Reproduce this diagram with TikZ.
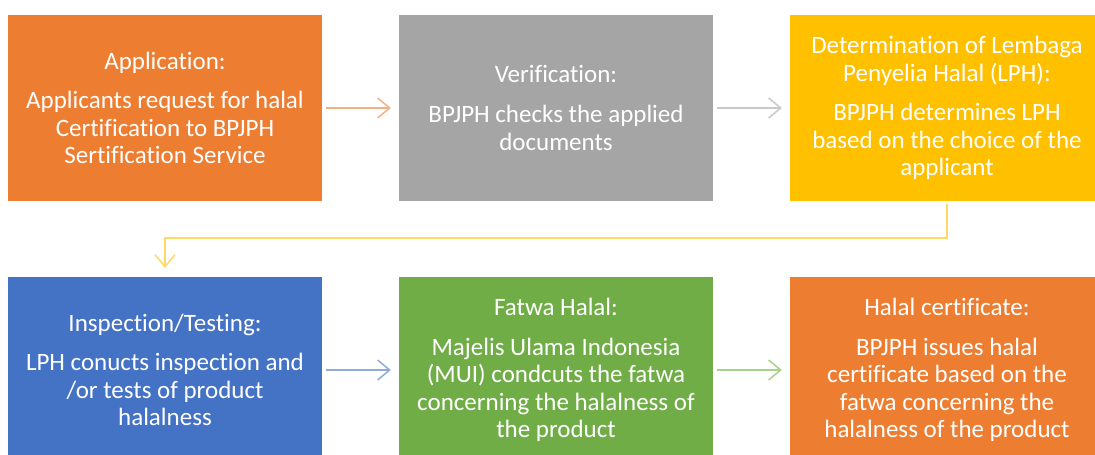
\documentclass[tikz,border=0pt]{standalone}
\usepackage{fontspec}
\setmainfont[Ligatures=NoCommon]{Carlito}
\usetikzlibrary{positioning, arrows.meta}

\definecolor{cOrange}{HTML}{ED7D31}
\definecolor{cGray}{HTML}{A5A5A5}
\definecolor{cYellow}{HTML}{FFC000}
\definecolor{cBlue}{HTML}{4472C4}
\definecolor{cGreen}{HTML}{70AD47}
\definecolor{aOrange}{HTML}{F4B183}
\definecolor{aGray}{HTML}{C9C9C9}
\definecolor{aYellow}{HTML}{FFD966}
\definecolor{aBlue}{HTML}{8FAADC}
\definecolor{aGreen}{HTML}{A9D18E}

\begin{document}
\begin{tikzpicture}[x=1pt, y=-1pt,
    stage/.style={rectangle, minimum width=314pt, minimum height=186pt, inner sep=0pt,
        text=white, align=center, font=\fontsize{25}{27.6}\selectfont},
    flow/.style={line width=1.5pt, -{Straight Barb[length=12pt, width=20pt, line width=1.5pt]},
        shorten <=4pt, shorten >=8pt}]
    \useasboundingbox (0,0) rectangle (1095,455);
    \clip (0,0) rectangle (1095,455);

    \node[stage, fill=cOrange] (app) at (165,108) {Application:\\[12pt]Applicants request for halal\\Certification to BPJPH\\Sertification Service};
    \node[stage, fill=cGray] (veri) at (556,108) {Verification:\\[12pt]BPJPH checks the applied\\documents};
    \node[stage, fill=cYellow] (lph) at (947,108) {Determination of Lembaga\\Penyelia Halal (LPH):\\[12pt]BPJPH determines LPH\\based on the choice of the\\applicant};
    \node[stage, fill=cBlue] (insp) at (165,370) {Inspection/Testing:\\[12pt]LPH conucts inspection and\\/or tests of product\\halalness};
    \node[stage, fill=cGreen] (fatwa) at (556,370) {Fatwa Halal:\\[12pt]Majelis Ulama Indonesia\\(MUI) condcuts the fatwa\\concerning the halalness of\\the product};
    \node[stage, fill=cOrange] (cert) at (947,370) {Halal certificate:\\[12pt]BPJPH issues halal\\certificate based on the\\fatwa concerning the\\halalness of the product};

    % Draw edges
    \draw[flow, aOrange] (app) -- (veri);
    \draw[flow, aGray] (veri) -- (lph);
    \draw[flow, aYellow, shorten <=3pt, shorten >=9pt] (lph.south) -- ++(0,37) -| (insp.north);
    \draw[flow, aBlue] (insp) -- (fatwa);
    \draw[flow, aGreen] (fatwa) -- (cert);
\end{tikzpicture}
\end{document}
